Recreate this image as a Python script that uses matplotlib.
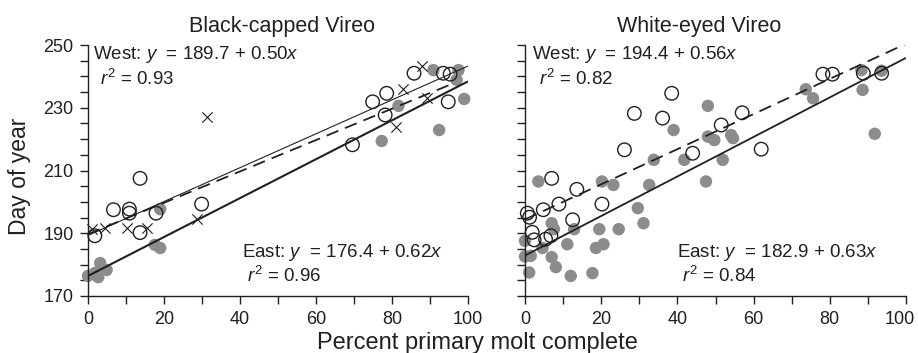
import numpy as np
import matplotlib
matplotlib.use('Agg')
import matplotlib.pyplot as plt
import matplotlib.transforms as mtransforms
from matplotlib.ticker import MultipleLocator, FixedLocator

plt.rcParams['font.family'] = ['Liberation Sans', 'DejaVu Sans']
plt.rcParams['mathtext.fontset'] = 'custom'
plt.rcParams['mathtext.rm'] = 'Liberation Sans'
plt.rcParams['mathtext.it'] = 'Liberation Sans:italic'

# Black-capped Vireo
bc_west_circ_x = [1.8, 6.7, 10.9, 10.9, 13.7, 13.7, 17.9, 29.9, 69.6, 74.9, 78.6, 78.2, 85.8, 93.5, 95.3, 94.8]
bc_west_circ_y = [189.2, 197.5, 197.7, 196.4, 207.5, 190.2, 196.4, 199.3, 218.2, 231.9, 234.6, 227.7, 241.0, 241.0, 240.7, 231.9]
bc_west_cross_x = [1.0, 4.5, 10.2, 15.4, 28.6, 31.2, 81.0, 83.0, 88.0, 89.1]
bc_west_cross_y = [191.3, 191.6, 191.6, 191.6, 194.5, 227.0, 223.8, 235.9, 243.3, 233.0]
bc_east_x = [0.0, 1.8, 2.7, 3.2, 4.9, 17.6, 19.0, 19.0, 77.3, 81.7, 90.9, 92.4, 97.0, 97.5, 99.0]
bc_east_y = [176.4, 177.3, 176.0, 180.5, 178.3, 186.3, 185.3, 197.7, 219.4, 230.6, 242.0, 222.9, 238.9, 242.0, 232.8]

# White-eyed Vireo
we_west_x = [38.5, 28.7, 36.1, 26.1, 44.0, 7.0, 13.6, 8.9, 4.8, 0.6, 1.2, 20.2, 12.5, 1.9, 2.4, 5.4,
             6.8, 78.2, 80.7, 88.8, 93.6, 57.0, 51.5, 62.0]
we_west_y = [234.6, 228.2, 226.7, 216.6, 215.5, 207.5, 204.0, 199.3, 197.5, 196.4, 195.1, 199.3, 194.3, 190.3, 187.9, 188.1,
             189.2, 240.7, 240.7, 241.0, 241.0, 228.4, 224.5, 216.8]
we_east_x = [48.0, 39.0, 33.8, 41.8, 48.0, 3.5, 20.2, 23.2, 32.6, 29.6, 31.1, 7.0, 7.6, 12.9, 19.5, 24.6,
             0.0, 4.6, 11.1, 18.6, 20.6, 0.0, 1.5, 7.0, 8.1, 1.1, 12.0, 17.7, 47.5, 88.3, 93.6, 88.6,
             73.7, 75.6, 49.7, 54.1, 54.6, 51.9, 91.8]
we_east_y = [230.6, 222.9, 213.4, 213.4, 220.8, 206.5, 206.5, 205.4, 205.4, 198.0, 193.2, 193.2, 191.3, 191.3, 191.3, 191.3,
             187.6, 185.3, 186.5, 185.3, 186.5, 182.6, 182.8, 182.4, 179.2, 177.5, 176.4, 177.3, 206.5, 242.0, 241.8, 235.7,
             235.9, 233.0, 219.7, 221.3, 220.3, 213.4, 221.7]

x_ticks = [0, 20, 40, 60, 80, 100]
x_ticklabels = ['0', '20', '40', '60', '80', '100']

# regression lines (intercept, slope, x range)
bc_east_fit = (176.4, 0.62, [0, 100])
bc_west_fit = (189.7, 0.50, [0, 96])
bc_circ_fit = (189.3, 0.54, [0, 100])
we_east_fit = (182.9, 0.63, [0, 100])
we_west_fit = (194.4, 0.56, [0, 100])

gray = '#8c8c8c'
ink = '#231f20'


def fit_line(ax, fit, **kw):
    a, b, xr = fit
    xs = np.array(xr, dtype=float)
    ax.plot(xs, a + b * xs, color=ink, solid_capstyle='butt', **kw)


def style_axes(ax, ylabels=True):
    for s in ['top', 'right']:
        ax.spines[s].set_visible(False)
    for s in ['left', 'bottom']:
        ax.spines[s].set_color(ink)
        ax.spines[s].set_linewidth(1.0)
    ax.set_xlim(0, 100)
    ax.set_ylim(170, 250)
    ax.set_xticks(x_ticks, labels=x_ticklabels)
    ax.xaxis.set_minor_locator(MultipleLocator(10))
    ax.yaxis.set_major_locator(FixedLocator([170, 190, 210, 230, 250]))
    ax.yaxis.set_minor_locator(MultipleLocator(5))
    ax.tick_params(which='both', direction='out', length=5.5, width=1.0, color=ink,
                   labelsize=13, labelcolor=ink, pad=5)
    if not ylabels:
        ax.tick_params(axis='y', labelleft=False)


def annotate(ax, west, west_r2, east, east_r2, xw, xe):
    kw = dict(transform=ax.transAxes, fontsize=13.5, color=ink, va='baseline')
    ax.text(xw, 0.944, 'West: $y$  = ' + west, **kw)
    ax.text(xw + 0.019, 0.841, '$r^2$ = ' + west_r2, **kw)
    ax.text(xe, 0.155, 'East: $y$  = ' + east, **kw)
    ax.text(xe + 0.013, 0.056, '$r^2$ = ' + east_r2, **kw)


fig = plt.figure(figsize=(9.18, 3.53), dpi=100)
ax1 = fig.add_axes([88 / 918, 1 - 296 / 353, 380 / 918, 251 / 353])
ax2 = fig.add_axes([525 / 918, 1 - 296 / 353, 381 / 918, 251 / 353])

# left panel
ax1.scatter(bc_east_x, bc_east_y, s=80, color=gray, edgecolors='none', clip_on=False, zorder=2)
fit_line(ax1, bc_east_fit, lw=1.5, zorder=3)
fit_line(ax1, bc_circ_fit, lw=0.8, zorder=3)
fit_line(ax1, bc_west_fit, lw=1.3, dashes=(7, 4), zorder=3)
ax1.scatter(bc_west_circ_x, bc_west_circ_y, s=95, facecolors='none', edgecolors=ink, linewidths=1.0,
            clip_on=False, zorder=4)
ax1.scatter(bc_west_cross_x, bc_west_cross_y, s=55, marker='x', color=ink, linewidths=0.8,
            clip_on=False, zorder=4)
style_axes(ax1)
annotate(ax1, '189.7 + 0.50$x$', '0.93', '176.4 + 0.62$x$', '0.96', 0.013, 0.405)

# right panel
ax2.scatter(we_east_x, we_east_y, s=80, color=gray, edgecolors='none', clip_on=False, zorder=2)
fit_line(ax2, we_east_fit, lw=1.3, zorder=3)
fit_line(ax2, we_west_fit, lw=1.3, dashes=(7, 4), zorder=3)
ax2.scatter(we_west_x, we_west_y, s=95, facecolors='none', edgecolors=ink, linewidths=1.0,
            clip_on=False, zorder=4)
style_axes(ax2, ylabels=False)
annotate(ax2, '194.4 + 0.56$x$', '0.82', '182.9 + 0.63$x$', '0.84', 0.018, 0.40)

# keep the last "100" inside the picture
last = ax2.get_xticklabels()[-1]
last.set_ha('right')
last.set_transform(last.get_transform() + mtransforms.ScaledTranslation(9 / 100, 0, fig.dpi_scale_trans))

fig.text(375 / 918, 1 - 32 / 353, 'Black-capped Vireo', ha='right', va='baseline', fontsize=15.5, color=ink)
fig.text(617 / 918, 1 - 32 / 353, 'White-eyed Vireo', ha='left', va='baseline', fontsize=15.5, color=ink)
fig.text(20 / 918, 1 - 176 / 353, 'Day of year', rotation=90, ha='center', va='center', fontsize=16.5, color=ink)
fig.text(477.5 / 918, 1 - 343 / 353, 'Percent primary molt complete', ha='center', va='center',
         fontsize=17, color=ink)

fig.savefig('out.png', dpi=100)
